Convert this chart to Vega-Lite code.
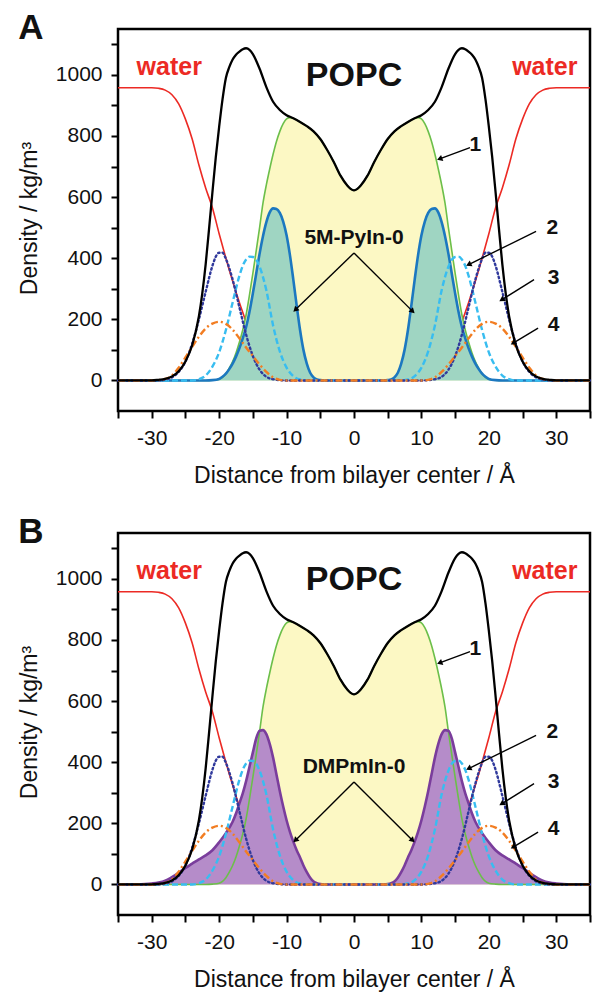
{
"$schema": "https://vega.github.io/schema/vega-lite/v6.json",
"background": "white",
"padding": {"left": 17, "top": 9, "right": 6, "bottom": 4},
"spacing": 24,
"config": {
  "font": "Liberation Sans",
  "view": {"stroke": "#000", "strokeWidth": 2.5},
  "axis": {"grid": false, "domain": false, "tickColor": "#000", "tickWidth": 2, "tickSize": 7, "labelFont": "Liberation Sans", "labelFontSize": 21, "labelColor": "#111", "titleFont": "Liberation Sans", "titleFontSize": 22, "titleFontWeight": "normal", "titleColor": "#111", "labelOverlap": false, "labelFlush": false},
  "title": {"fontSize": 35, "fontWeight": "bold", "anchor": "start", "frame": "bounds", "offset": -17, "font": "Liberation Sans", "color": "#111"}
},
"datasets": {
"p": [
{"c":"k","x":-35,"d":0},{"c":"k","x":-30,"d":0},{"c":"k","x":-29,"d":2},{"c":"k","x":-28,"d":5},{"c":"k","x":-27,"d":13},{"c":"k","x":-26,"d":30},{"c":"k","x":-25,"d":62},{"c":"k","x":-24,"d":115},{"c":"k","x":-23,"d":210},{"c":"k","x":-22.5,"d":285},{"c":"k","x":-22,"d":380},{"c":"k","x":-21.5,"d":495},{"c":"k","x":-21,"d":615},{"c":"k","x":-20.5,"d":730},{"c":"k","x":-20,"d":830},{"c":"k","x":-19.5,"d":920},{"c":"k","x":-19,"d":990},{"c":"k","x":-18.5,"d":1025},{"c":"k","x":-18,"d":1050},{"c":"k","x":-17.5,"d":1066},{"c":"k","x":-17,"d":1076},{"c":"k","x":-16.5,"d":1084},{"c":"k","x":-16,"d":1087},{"c":"k","x":-15.5,"d":1082},{"c":"k","x":-15,"d":1068},{"c":"k","x":-14,"d":1020},{"c":"k","x":-13,"d":960},{"c":"k","x":-12,"d":912},{"c":"k","x":-11,"d":885},{"c":"k","x":-10,"d":868},{"c":"k","x":-9,"d":858},{"c":"k","x":-8,"d":846},{"c":"k","x":-7,"d":832},{"c":"k","x":-6,"d":815},{"c":"k","x":-5,"d":790},{"c":"k","x":-4,"d":755},{"c":"k","x":-3,"d":715},{"c":"k","x":-2,"d":670},{"c":"k","x":-1,"d":638},{"c":"k","x":-0.5,"d":627},{"c":"k","x":0,"d":622},
{"c":"k","x":0.5,"d":627},{"c":"k","x":1,"d":638},{"c":"k","x":2,"d":670},{"c":"k","x":3,"d":715},{"c":"k","x":4,"d":755},{"c":"k","x":5,"d":790},{"c":"k","x":6,"d":815},{"c":"k","x":7,"d":832},{"c":"k","x":8,"d":846},{"c":"k","x":9,"d":858},{"c":"k","x":10,"d":868},{"c":"k","x":11,"d":885},{"c":"k","x":12,"d":912},{"c":"k","x":13,"d":960},{"c":"k","x":14,"d":1020},{"c":"k","x":15,"d":1068},{"c":"k","x":15.5,"d":1082},{"c":"k","x":16,"d":1087},{"c":"k","x":16.5,"d":1084},{"c":"k","x":17,"d":1076},{"c":"k","x":17.5,"d":1066},{"c":"k","x":18,"d":1050},{"c":"k","x":18.5,"d":1025},{"c":"k","x":19,"d":990},{"c":"k","x":19.5,"d":920},{"c":"k","x":20,"d":830},{"c":"k","x":20.5,"d":730},{"c":"k","x":21,"d":615},{"c":"k","x":21.5,"d":495},{"c":"k","x":22,"d":380},{"c":"k","x":22.5,"d":285},{"c":"k","x":23,"d":210},{"c":"k","x":24,"d":115},{"c":"k","x":25,"d":62},{"c":"k","x":26,"d":30},{"c":"k","x":27,"d":13},{"c":"k","x":28,"d":5},{"c":"k","x":29,"d":2},{"c":"k","x":30,"d":0},{"c":"k","x":35,"d":0},

{"c":"r","x":-35,"d":958},{"c":"r","x":-30,"d":958},{"c":"r","x":-29,"d":956},{"c":"r","x":-28,"d":950},{"c":"r","x":-27,"d":935},{"c":"r","x":-26,"d":905},{"c":"r","x":-25,"d":855},{"c":"r","x":-24,"d":790},{"c":"r","x":-23,"d":705},{"c":"r","x":-22,"d":630},{"c":"r","x":-21,"d":565},{"c":"r","x":-20,"d":480},{"c":"r","x":-19,"d":400},{"c":"r","x":-18,"d":325},{"c":"r","x":-17,"d":255},{"c":"r","x":-16,"d":190},{"c":"r","x":-15,"d":115},{"c":"r","x":-14,"d":55},{"c":"r","x":-13,"d":22},{"c":"r","x":-12,"d":8},{"c":"r","x":-11,"d":2},{"c":"r","x":-10,"d":0},{"c":"r","x":0,"d":0},
{"c":"r","x":10,"d":0},{"c":"r","x":11,"d":2},{"c":"r","x":12,"d":8},{"c":"r","x":13,"d":22},{"c":"r","x":14,"d":55},{"c":"r","x":15,"d":115},{"c":"r","x":16,"d":190},{"c":"r","x":17,"d":255},{"c":"r","x":18,"d":325},{"c":"r","x":19,"d":400},{"c":"r","x":20,"d":480},{"c":"r","x":21,"d":565},{"c":"r","x":22,"d":630},{"c":"r","x":23,"d":705},{"c":"r","x":24,"d":790},{"c":"r","x":25,"d":855},{"c":"r","x":26,"d":905},{"c":"r","x":27,"d":935},{"c":"r","x":28,"d":950},{"c":"r","x":29,"d":956},{"c":"r","x":30,"d":958},{"c":"r","x":35,"d":958},

{"c":"g","x":-35,"d":0},{"c":"g","x":-22,"d":0},{"c":"g","x":-21,"d":1},{"c":"g","x":-20,"d":4},{"c":"g","x":-19.5,"d":10},{"c":"g","x":-19,"d":22},{"c":"g","x":-18.5,"d":40},{"c":"g","x":-18,"d":62},{"c":"g","x":-17.5,"d":90},{"c":"g","x":-17,"d":125},{"c":"g","x":-16.5,"d":165},{"c":"g","x":-16,"d":215},{"c":"g","x":-15.5,"d":280},{"c":"g","x":-15,"d":350},{"c":"g","x":-14.5,"d":425},{"c":"g","x":-14,"d":500},{"c":"g","x":-13.5,"d":580},{"c":"g","x":-13,"d":640},{"c":"g","x":-12.5,"d":692},{"c":"g","x":-12,"d":740},{"c":"g","x":-11.5,"d":782},{"c":"g","x":-11,"d":815},{"c":"g","x":-10.5,"d":840},{"c":"g","x":-10,"d":856},{"c":"g","x":-9.5,"d":860},{"c":"g","x":-9,"d":858},{"c":"g","x":-8,"d":846},{"c":"g","x":-7,"d":832},{"c":"g","x":-6,"d":815},{"c":"g","x":-5,"d":790},{"c":"g","x":-4,"d":755},{"c":"g","x":-3,"d":715},{"c":"g","x":-2,"d":670},{"c":"g","x":-1,"d":638},{"c":"g","x":-0.5,"d":627},{"c":"g","x":0,"d":622},
{"c":"g","x":0.5,"d":627},{"c":"g","x":1,"d":638},{"c":"g","x":2,"d":670},{"c":"g","x":3,"d":715},{"c":"g","x":4,"d":755},{"c":"g","x":5,"d":790},{"c":"g","x":6,"d":815},{"c":"g","x":7,"d":832},{"c":"g","x":8,"d":846},{"c":"g","x":9,"d":858},{"c":"g","x":9.5,"d":860},{"c":"g","x":10,"d":856},{"c":"g","x":10.5,"d":840},{"c":"g","x":11,"d":815},{"c":"g","x":11.5,"d":782},{"c":"g","x":12,"d":740},{"c":"g","x":12.5,"d":692},{"c":"g","x":13,"d":640},{"c":"g","x":13.5,"d":580},{"c":"g","x":14,"d":500},{"c":"g","x":14.5,"d":425},{"c":"g","x":15,"d":350},{"c":"g","x":15.5,"d":280},{"c":"g","x":16,"d":215},{"c":"g","x":16.5,"d":165},{"c":"g","x":17,"d":125},{"c":"g","x":17.5,"d":90},{"c":"g","x":18,"d":62},{"c":"g","x":18.5,"d":40},{"c":"g","x":19,"d":22},{"c":"g","x":19.5,"d":10},{"c":"g","x":20,"d":4},{"c":"g","x":21,"d":1},{"c":"g","x":22,"d":0},{"c":"g","x":35,"d":0},

{"c":"t","x":-35,"d":0},{"c":"t","x":-22,"d":0},{"c":"t","x":-21,"d":1},{"c":"t","x":-20,"d":5},{"c":"t","x":-19.5,"d":12},{"c":"t","x":-19,"d":22},{"c":"t","x":-18.5,"d":37},{"c":"t","x":-18,"d":55},{"c":"t","x":-17.5,"d":78},{"c":"t","x":-17,"d":105},{"c":"t","x":-16.5,"d":138},{"c":"t","x":-16,"d":175},{"c":"t","x":-15.5,"d":225},{"c":"t","x":-15,"d":285},{"c":"t","x":-14.5,"d":350},{"c":"t","x":-14,"d":415},{"c":"t","x":-13.5,"d":472},{"c":"t","x":-13,"d":518},{"c":"t","x":-12.5,"d":550},{"c":"t","x":-12,"d":563},{"c":"t","x":-11.5,"d":561},{"c":"t","x":-11,"d":548},{"c":"t","x":-10.5,"d":520},{"c":"t","x":-10,"d":475},{"c":"t","x":-9.5,"d":410},{"c":"t","x":-9,"d":330},{"c":"t","x":-8.5,"d":245},{"c":"t","x":-8,"d":165},{"c":"t","x":-7.5,"d":100},{"c":"t","x":-7,"d":55},{"c":"t","x":-6.5,"d":25},{"c":"t","x":-6,"d":10},{"c":"t","x":-5.5,"d":3},{"c":"t","x":-5,"d":1},{"c":"t","x":-4.5,"d":0},{"c":"t","x":0,"d":0},
{"c":"t","x":4.5,"d":0},{"c":"t","x":5,"d":1},{"c":"t","x":5.5,"d":3},{"c":"t","x":6,"d":10},{"c":"t","x":6.5,"d":25},{"c":"t","x":7,"d":55},{"c":"t","x":7.5,"d":100},{"c":"t","x":8,"d":165},{"c":"t","x":8.5,"d":245},{"c":"t","x":9,"d":330},{"c":"t","x":9.5,"d":410},{"c":"t","x":10,"d":475},{"c":"t","x":10.5,"d":520},{"c":"t","x":11,"d":548},{"c":"t","x":11.5,"d":561},{"c":"t","x":12,"d":563},{"c":"t","x":12.5,"d":550},{"c":"t","x":13,"d":518},{"c":"t","x":13.5,"d":472},{"c":"t","x":14,"d":415},{"c":"t","x":14.5,"d":350},{"c":"t","x":15,"d":285},{"c":"t","x":15.5,"d":225},{"c":"t","x":16,"d":175},{"c":"t","x":16.5,"d":138},{"c":"t","x":17,"d":105},{"c":"t","x":17.5,"d":78},{"c":"t","x":18,"d":55},{"c":"t","x":18.5,"d":37},{"c":"t","x":19,"d":22},{"c":"t","x":19.5,"d":12},{"c":"t","x":20,"d":5},{"c":"t","x":21,"d":1},{"c":"t","x":22,"d":0},{"c":"t","x":35,"d":0},

{"c":"s","x":-35,"d":0},{"c":"s","x":-24,"d":0},{"c":"s","x":-23,"d":4},{"c":"s","x":-22,"d":16},{"c":"s","x":-21,"d":45},{"c":"s","x":-20,"d":92},{"c":"s","x":-19,"d":165},{"c":"s","x":-18,"d":255},{"c":"s","x":-17,"d":342},{"c":"s","x":-16.5,"d":375},{"c":"s","x":-16,"d":396},{"c":"s","x":-15.5,"d":405},{"c":"s","x":-15,"d":404},{"c":"s","x":-14.5,"d":395},{"c":"s","x":-14,"d":372},{"c":"s","x":-13,"d":295},{"c":"s","x":-12,"d":180},{"c":"s","x":-11,"d":95},{"c":"s","x":-10,"d":42},{"c":"s","x":-9,"d":14},{"c":"s","x":-8,"d":3},{"c":"s","x":-7,"d":0},{"c":"s","x":0,"d":0},
{"c":"s","x":7,"d":0},{"c":"s","x":8,"d":3},{"c":"s","x":9,"d":14},{"c":"s","x":10,"d":42},{"c":"s","x":11,"d":95},{"c":"s","x":12,"d":180},{"c":"s","x":13,"d":295},{"c":"s","x":14,"d":372},{"c":"s","x":14.5,"d":395},{"c":"s","x":15,"d":404},{"c":"s","x":15.5,"d":405},{"c":"s","x":16,"d":396},{"c":"s","x":16.5,"d":375},{"c":"s","x":17,"d":342},{"c":"s","x":18,"d":255},{"c":"s","x":19,"d":165},{"c":"s","x":20,"d":92},{"c":"s","x":21,"d":45},{"c":"s","x":22,"d":16},{"c":"s","x":23,"d":4},{"c":"s","x":24,"d":0},{"c":"s","x":35,"d":0},

{"c":"o","x":-35,"d":0},{"c":"o","x":-29,"d":0},{"c":"o","x":-28,"d":3},{"c":"o","x":-27,"d":10},{"c":"o","x":-26,"d":28},{"c":"o","x":-25,"d":62},{"c":"o","x":-24,"d":120},{"c":"o","x":-23,"d":200},{"c":"o","x":-22,"d":290},{"c":"o","x":-21,"d":375},{"c":"o","x":-20.5,"d":405},{"c":"o","x":-20,"d":418},{"c":"o","x":-19.5,"d":418},{"c":"o","x":-19,"d":398},{"c":"o","x":-18,"d":330},{"c":"o","x":-17,"d":240},{"c":"o","x":-16,"d":150},{"c":"o","x":-15,"d":80},{"c":"o","x":-14,"d":35},{"c":"o","x":-13,"d":12},{"c":"o","x":-12,"d":4},{"c":"o","x":-11,"d":1},{"c":"o","x":-10,"d":0},{"c":"o","x":0,"d":0},
{"c":"o","x":10,"d":0},{"c":"o","x":11,"d":1},{"c":"o","x":12,"d":4},{"c":"o","x":13,"d":12},{"c":"o","x":14,"d":35},{"c":"o","x":15,"d":80},{"c":"o","x":16,"d":150},{"c":"o","x":17,"d":240},{"c":"o","x":18,"d":330},{"c":"o","x":19,"d":398},{"c":"o","x":19.5,"d":418},{"c":"o","x":20,"d":418},{"c":"o","x":20.5,"d":405},{"c":"o","x":21,"d":375},{"c":"o","x":22,"d":290},{"c":"o","x":23,"d":200},{"c":"o","x":24,"d":120},{"c":"o","x":25,"d":62},{"c":"o","x":26,"d":28},{"c":"o","x":27,"d":10},{"c":"o","x":28,"d":3},{"c":"o","x":29,"d":0},{"c":"o","x":35,"d":0},

{"c":"n","x":-35,"d":0},{"c":"n","x":-30,"d":0},{"c":"n","x":-29,"d":1},{"c":"n","x":-28,"d":5},{"c":"n","x":-27,"d":16},{"c":"n","x":-26,"d":42},{"c":"n","x":-25,"d":75},{"c":"n","x":-24,"d":110},{"c":"n","x":-23,"d":143},{"c":"n","x":-22,"d":170},{"c":"n","x":-21,"d":186},{"c":"n","x":-20,"d":192},{"c":"n","x":-19,"d":185},{"c":"n","x":-18,"d":166},{"c":"n","x":-17,"d":138},{"c":"n","x":-16,"d":108},{"c":"n","x":-15,"d":80},{"c":"n","x":-14,"d":52},{"c":"n","x":-13,"d":28},{"c":"n","x":-12,"d":10},{"c":"n","x":-11,"d":2},{"c":"n","x":-10,"d":0},{"c":"n","x":0,"d":0},
{"c":"n","x":10,"d":0},{"c":"n","x":11,"d":2},{"c":"n","x":12,"d":10},{"c":"n","x":13,"d":28},{"c":"n","x":14,"d":52},{"c":"n","x":15,"d":80},{"c":"n","x":16,"d":108},{"c":"n","x":17,"d":138},{"c":"n","x":18,"d":166},{"c":"n","x":19,"d":185},{"c":"n","x":20,"d":192},{"c":"n","x":21,"d":186},{"c":"n","x":22,"d":170},{"c":"n","x":23,"d":143},{"c":"n","x":24,"d":110},{"c":"n","x":25,"d":75},{"c":"n","x":26,"d":42},{"c":"n","x":27,"d":16},{"c":"n","x":28,"d":5},{"c":"n","x":29,"d":1},{"c":"n","x":30,"d":0},{"c":"n","x":35,"d":0},

{"c":"p","x":-35,"d":0},{"c":"p","x":-32,"d":0},{"c":"p","x":-31,"d":1},{"c":"p","x":-30,"d":3},{"c":"p","x":-29,"d":6},{"c":"p","x":-28,"d":12},{"c":"p","x":-27,"d":24},{"c":"p","x":-26,"d":38},{"c":"p","x":-25,"d":54},{"c":"p","x":-24,"d":68},{"c":"p","x":-23,"d":82},{"c":"p","x":-22,"d":95},{"c":"p","x":-21,"d":112},{"c":"p","x":-20,"d":138},{"c":"p","x":-19,"d":168},{"c":"p","x":-18,"d":205},{"c":"p","x":-17.5,"d":232},{"c":"p","x":-17,"d":265},{"c":"p","x":-16.5,"d":298},{"c":"p","x":-16,"d":338},{"c":"p","x":-15.5,"d":385},{"c":"p","x":-15,"d":432},{"c":"p","x":-14.5,"d":478},{"c":"p","x":-14,"d":503},{"c":"p","x":-13.5,"d":505},{"c":"p","x":-13,"d":492},{"c":"p","x":-12.5,"d":460},{"c":"p","x":-12,"d":415},{"c":"p","x":-11.5,"d":360},{"c":"p","x":-11,"d":305},{"c":"p","x":-10.5,"d":255},{"c":"p","x":-10,"d":210},{"c":"p","x":-9.5,"d":172},{"c":"p","x":-9,"d":140},{"c":"p","x":-8.5,"d":112},{"c":"p","x":-8,"d":88},{"c":"p","x":-7.5,"d":62},{"c":"p","x":-7,"d":40},{"c":"p","x":-6.5,"d":22},{"c":"p","x":-6,"d":10},{"c":"p","x":-5.5,"d":4},{"c":"p","x":-5,"d":1},{"c":"p","x":-4.5,"d":0},{"c":"p","x":0,"d":0},
{"c":"p","x":4.5,"d":0},{"c":"p","x":5,"d":1},{"c":"p","x":5.5,"d":4},{"c":"p","x":6,"d":10},{"c":"p","x":6.5,"d":22},{"c":"p","x":7,"d":40},{"c":"p","x":7.5,"d":62},{"c":"p","x":8,"d":88},{"c":"p","x":8.5,"d":112},{"c":"p","x":9,"d":140},{"c":"p","x":9.5,"d":172},{"c":"p","x":10,"d":210},{"c":"p","x":10.5,"d":255},{"c":"p","x":11,"d":305},{"c":"p","x":11.5,"d":360},{"c":"p","x":12,"d":415},{"c":"p","x":12.5,"d":460},{"c":"p","x":13,"d":492},{"c":"p","x":13.5,"d":505},{"c":"p","x":14,"d":503},{"c":"p","x":14.5,"d":478},{"c":"p","x":15,"d":432},{"c":"p","x":15.5,"d":385},{"c":"p","x":16,"d":338},{"c":"p","x":16.5,"d":298},{"c":"p","x":17,"d":265},{"c":"p","x":17.5,"d":232},{"c":"p","x":18,"d":205},{"c":"p","x":19,"d":168},{"c":"p","x":20,"d":138},{"c":"p","x":21,"d":112},{"c":"p","x":22,"d":95},{"c":"p","x":23,"d":82},{"c":"p","x":24,"d":68},{"c":"p","x":25,"d":54},{"c":"p","x":26,"d":38},{"c":"p","x":27,"d":24},{"c":"p","x":28,"d":12},{"c":"p","x":29,"d":6},{"c":"p","x":30,"d":3},{"c":"p","x":31,"d":1},{"c":"p","x":32,"d":0},{"c":"p","x":35,"d":0}
],
"lab": [
{"k":"popc","t":"POPC","x":0,"d":995},
{"k":"water","t":"water","x":-27.4,"d":998},
{"k":"water","t":"water","x":28.3,"d":998},
{"k":"num","t":"1","x":18,"d":771},
{"k":"num","t":"2","x":29.4,"d":499},
{"k":"num","t":"3","x":29.6,"d":335},
{"k":"num","t":"4","x":29.6,"d":182},
{"k":"solA","t":"5M-PyIn-0","x":0,"d":466},
{"k":"solB","t":"DMPmIn-0","x":0,"d":384}
],
"arr": [
{"g":"c","x":12.7,"d":725,"x0":17.2,"d0":762},
{"g":"c","x":17.0,"d":379,"x0":27.0,"d0":488},
{"g":"c","x":21.9,"d":264,"x0":26.7,"d0":330},
{"g":"c","x":23.6,"d":122,"x0":27.3,"d0":171},
{"g":"A","x":-8.7,"d":231,"x0":0,"d0":417},
{"g":"A","x":8.7,"d":226,"x0":0,"d0":417},
{"g":"B","x":-8.7,"d":144,"x0":0,"d0":335},
{"g":"B","x":8.7,"d":144,"x0":0,"d0":335}
],
"tk": [{"x":-35},{"x":-30},{"x":-25},{"x":-20},{"x":-15},{"x":-10},{"x":-5},{"x":0},{"x":5},{"x":10},{"x":15},{"x":20},{"x":25},{"x":30},{"x":35}]
},
"vconcat": [
{
"width": 472, "height": 382,
"title": {"text": "A"},
"data": {"name": "p"},
"encoding": {
  "x": {"field": "x", "type": "quantitative", "scale": {"domain": [-35, 35], "nice": false, "zero": false}, "axis": {"values": [-35,-30,-25,-20,-15,-10,-5,0,5,10,15,20,25,30,35], "labelExpr": "datum.value % 10 === 0 ? toString(datum.value) : ''", "labelPadding": 9, "title": "Distance from bilayer center / Å", "titleFontSize": 23, "titlePadding": 16}},
  "y": {"field": "d", "type": "quantitative", "scale": {"domain": [-100, 1150], "nice": false, "zero": false}, "axis": {"values": [0,100,200,300,400,500,600,700,800,900,1000,1100], "labelExpr": "datum.value % 200 === 0 ? toString(datum.value) : ''", "labelPadding": 9, "title": "Density / kg/m³", "titleFontSize": 23, "titlePadding": 14, "titleY": 189}}
},
"layer": [
{"transform": [{"filter": "datum.c === 'r'"}], "mark": {"type": "line", "color": "#ec2a24", "strokeWidth": 1.6, "interpolate": "monotone"}},
{"transform": [{"filter": "datum.c === 'g'"}], "mark": {"type": "area", "color": "#fcf8c4", "interpolate": "monotone"}, "encoding": {"y2": {"datum": 0}}},
{"transform": [{"filter": "datum.c === 't'"}], "mark": {"type": "area", "color": "#9fd5c2", "interpolate": "monotone"}, "encoding": {"y2": {"datum": 0}}},
{"transform": [{"filter": "datum.c === 'g'"}], "mark": {"type": "line", "color": "#6cbf4a", "strokeWidth": 1.6, "interpolate": "monotone"}},
{"transform": [{"filter": "datum.c === 't'"}], "mark": {"type": "line", "color": "#1c78c0", "strokeWidth": 2.6, "interpolate": "monotone"}},
{"transform": [{"filter": "datum.c === 's'"}], "mark": {"type": "line", "color": "#38bdf0", "strokeWidth": 2.4, "strokeDash": [6, 3], "interpolate": "monotone"}},
{"transform": [{"filter": "datum.c === 'o'"}], "mark": {"type": "line", "color": "#30399c", "strokeWidth": 2.4, "strokeDash": [1.5, 3], "strokeCap": "round", "interpolate": "monotone"}},
{"transform": [{"filter": "datum.c === 'n'"}], "mark": {"type": "line", "color": "#f27d22", "strokeWidth": 2.4, "strokeDash": [7, 3, 2, 3], "interpolate": "monotone"}},
{"transform": [{"filter": "datum.c === 'k'"}], "mark": {"type": "line", "color": "#000", "strokeWidth": 2.3, "interpolate": "monotone"}},
{"data": {"name": "tk"}, "mark": {"type": "tick", "orient": "vertical", "size": 7, "thickness": 2, "color": "#000", "yOffset": 3.5}, "encoding": {"y": {"datum": 1150, "type": "quantitative"}}},
{"data": {"name": "lab"}, "transform": [{"filter": "datum.k === 'popc'"}], "mark": {"type": "text", "fontWeight": "bold", "fontSize": 34, "baseline": "middle", "color": "#111"}, "encoding": {"text": {"field": "t"}}},
{"data": {"name": "lab"}, "transform": [{"filter": "datum.k === 'water'"}], "mark": {"type": "text", "fontWeight": "bold", "fontSize": 25, "baseline": "alphabetic", "color": "#ec2a24"}, "encoding": {"text": {"field": "t"}}},
{"data": {"name": "lab"}, "transform": [{"filter": "datum.k === 'num' || datum.k === 'solA'"}], "mark": {"type": "text", "fontWeight": "bold", "fontSize": 21, "baseline": "middle", "color": "#111"}, "encoding": {"text": {"field": "t"}}},
{"data": {"name": "arr"}, "transform": [{"filter": "datum.g === 'c' || datum.g === 'A'"}], "mark": {"type": "rule", "color": "#000", "strokeWidth": 1.4}, "encoding": {"x2": {"field": "x0"}, "y2": {"field": "d0"}}},
{"data": {"name": "arr"}, "transform": [{"filter": "datum.g === 'c' || datum.g === 'A'"}, {"calculate": "atan2((datum.x - datum.x0) * 6.743, (datum.d - datum.d0) * 0.3056) * 180 / PI", "as": "a"}], "mark": {"type": "point", "shape": "triangle-up", "filled": true, "color": "#000", "size": 40, "opacity": 1},
 "encoding": {"angle": {"field": "a", "type": "quantitative", "scale": null}}}
]
},
{
"width": 472, "height": 382,
"title": {"text": "B"},
"data": {"name": "p"},
"encoding": {
  "x": {"field": "x", "type": "quantitative", "scale": {"domain": [-35, 35], "nice": false, "zero": false}, "axis": {"values": [-35,-30,-25,-20,-15,-10,-5,0,5,10,15,20,25,30,35], "labelExpr": "datum.value % 10 === 0 ? toString(datum.value) : ''", "labelPadding": 9, "title": "Distance from bilayer center / Å", "titleFontSize": 23, "titlePadding": 16}},
  "y": {"field": "d", "type": "quantitative", "scale": {"domain": [-100, 1150], "nice": false, "zero": false}, "axis": {"values": [0,100,200,300,400,500,600,700,800,900,1000,1100], "labelExpr": "datum.value % 200 === 0 ? toString(datum.value) : ''", "labelPadding": 9, "title": "Density / kg/m³", "titleFontSize": 23, "titlePadding": 14, "titleY": 189}}
},
"layer": [
{"transform": [{"filter": "datum.c === 'r'"}], "mark": {"type": "line", "color": "#ec2a24", "strokeWidth": 1.6, "interpolate": "monotone"}},
{"transform": [{"filter": "datum.c === 'g'"}], "mark": {"type": "area", "color": "#fcf8c4", "interpolate": "monotone"}, "encoding": {"y2": {"datum": 0}}},
{"transform": [{"filter": "datum.c === 'p'"}], "mark": {"type": "area", "color": "#b58cc9", "interpolate": "monotone"}, "encoding": {"y2": {"datum": 0}}},
{"transform": [{"filter": "datum.c === 'g'"}], "mark": {"type": "line", "color": "#6cbf4a", "strokeWidth": 1.6, "interpolate": "monotone"}},
{"transform": [{"filter": "datum.c === 'p'"}], "mark": {"type": "line", "color": "#7a3d9c", "strokeWidth": 2.6, "interpolate": "monotone"}},
{"transform": [{"filter": "datum.c === 's'"}], "mark": {"type": "line", "color": "#38bdf0", "strokeWidth": 2.4, "strokeDash": [6, 3], "interpolate": "monotone"}},
{"transform": [{"filter": "datum.c === 'o'"}], "mark": {"type": "line", "color": "#30399c", "strokeWidth": 2.4, "strokeDash": [1.5, 3], "strokeCap": "round", "interpolate": "monotone"}},
{"transform": [{"filter": "datum.c === 'n'"}], "mark": {"type": "line", "color": "#f27d22", "strokeWidth": 2.4, "strokeDash": [7, 3, 2, 3], "interpolate": "monotone"}},
{"transform": [{"filter": "datum.c === 'k'"}], "mark": {"type": "line", "color": "#000", "strokeWidth": 2.3, "interpolate": "monotone"}},
{"data": {"name": "tk"}, "mark": {"type": "tick", "orient": "vertical", "size": 7, "thickness": 2, "color": "#000", "yOffset": 3.5}, "encoding": {"y": {"datum": 1150, "type": "quantitative"}}},
{"data": {"name": "lab"}, "transform": [{"filter": "datum.k === 'popc'"}], "mark": {"type": "text", "fontWeight": "bold", "fontSize": 34, "baseline": "middle", "color": "#111"}, "encoding": {"text": {"field": "t"}}},
{"data": {"name": "lab"}, "transform": [{"filter": "datum.k === 'water'"}], "mark": {"type": "text", "fontWeight": "bold", "fontSize": 25, "baseline": "alphabetic", "color": "#ec2a24"}, "encoding": {"text": {"field": "t"}}},
{"data": {"name": "lab"}, "transform": [{"filter": "datum.k === 'num' || datum.k === 'solB'"}], "mark": {"type": "text", "fontWeight": "bold", "fontSize": 21, "baseline": "middle", "color": "#111"}, "encoding": {"text": {"field": "t"}}},
{"data": {"name": "arr"}, "transform": [{"filter": "datum.g === 'c' || datum.g === 'B'"}], "mark": {"type": "rule", "color": "#000", "strokeWidth": 1.4}, "encoding": {"x2": {"field": "x0"}, "y2": {"field": "d0"}}},
{"data": {"name": "arr"}, "transform": [{"filter": "datum.g === 'c' || datum.g === 'B'"}, {"calculate": "atan2((datum.x - datum.x0) * 6.743, (datum.d - datum.d0) * 0.3056) * 180 / PI", "as": "a"}], "mark": {"type": "point", "shape": "triangle-up", "filled": true, "color": "#000", "size": 40, "opacity": 1},
 "encoding": {"angle": {"field": "a", "type": "quantitative", "scale": null}}}
]
}
]
}
